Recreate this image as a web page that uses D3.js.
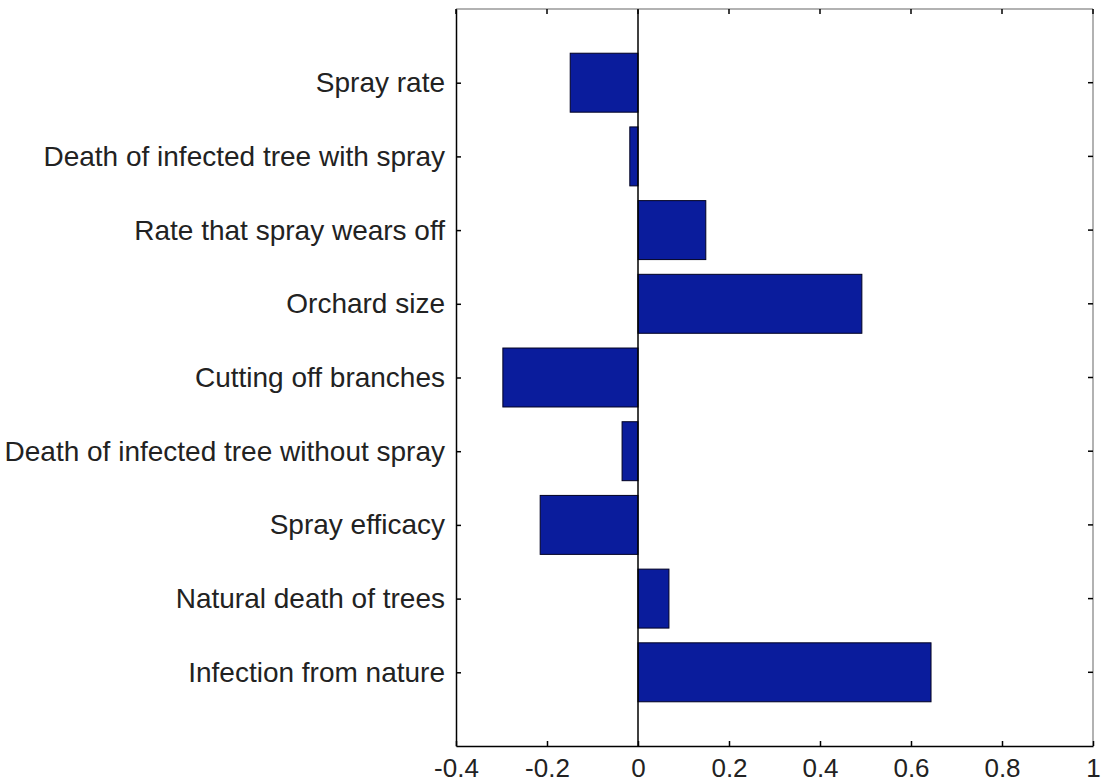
<!DOCTYPE html>
<html><head><meta charset="utf-8">
<script src="https://cdn.jsdelivr.net/npm/d3@7"></script>
<style>body{margin:0;background:#fff;} svg{display:block;}</style>
</head><body>
<script>
const categories = ["Infection from nature","Natural death of trees","Spray efficacy","Death of infected tree without spray","Cutting off branches","Orchard size","Rate that spray wears off","Death of infected tree with spray","Spray rate"];
const values = [0.644, 0.068, -0.215, -0.035, -0.297, 0.492, 0.149, -0.018, -0.149];
const xTicks = [-0.4,-0.2,0,0.2,0.4,0.6,0.8,1];
const xTickLabels = ["-0.4","-0.2","0","0.2","0.4","0.6","0.8","1"];

const W=1105,H=782;
const m={left:456,right:12,top:9,bottom:36};
const svg=d3.select("body").append("svg").attr("width",W).attr("height",H);
const x=d3.scaleLinear().domain([-0.4,1]).range([m.left,W-m.right]);
const y=d3.scaleLinear().domain([0,categories.length+1]).range([H-m.bottom,m.top]);
const bw = (y(0)-y(0.8));
const fontFam="'Liberation Sans', Arial, sans-serif";

// bars
svg.append("g").selectAll("rect").data(values).join("rect")
  .attr("x",d=>x(Math.min(0,d)))
  .attr("width",d=>Math.abs(x(d)-x(0)))
  .attr("y",(d,i)=>y(i+1)-bw/2)
  .attr("height",bw)
  .attr("fill","#0a1c9c").attr("stroke","#000022").attr("stroke-width",1);

// zero baseline
svg.append("line").attr("x1",x(0)).attr("x2",x(0)).attr("y1",y(0)).attr("y2",y(categories.length+1))
  .attr("stroke","#000").attr("stroke-width",1.5);

// box
svg.append("line").attr("x1",x(-0.4)).attr("x2",x(1)).attr("y1",m.top).attr("y2",m.top).attr("stroke","#999").attr("stroke-width",1.5);
svg.append("line").attr("x1",x(1)).attr("x2",x(1)).attr("y1",m.top).attr("y2",H-m.bottom).attr("stroke","#999").attr("stroke-width",1.5);

// bottom axis
const xa=svg.append("g").attr("transform",`translate(0,${H-m.bottom})`)
  .call(d3.axisBottom(x).tickValues(xTicks).tickFormat((d,i)=>xTickLabels[i]).tickSizeInner(-5).tickSizeOuter(0).tickPadding(12));
xa.select(".domain").attr("stroke","#000").attr("stroke-width",1.5);
xa.selectAll(".tick line").attr("stroke","#000").attr("stroke-width",1.5);
xa.selectAll("text").attr("font-family",fontFam).attr("font-size",26).attr("fill","#222").attr("y",31).attr("dy",0);
// top ticks
svg.append("g").selectAll("line").data(xTicks).join("line")
  .attr("x1",d=>x(d)).attr("x2",d=>x(d)).attr("y1",m.top).attr("y2",m.top+5).attr("stroke","#000").attr("stroke-width",1.5);

// left axis
const ya=svg.append("g").attr("transform",`translate(${m.left},0)`)
  .call(d3.axisLeft(y).tickValues(d3.range(1,categories.length+1)).tickFormat(d=>categories[d-1]).tickSizeInner(-5).tickSizeOuter(0).tickPadding(11));
ya.select(".domain").attr("stroke","#000").attr("stroke-width",1.5);
ya.selectAll(".tick line").attr("stroke","#000").attr("stroke-width",1.5);
ya.selectAll("text").attr("font-family",fontFam).attr("font-size",28).attr("fill","#222");
// right ticks
svg.append("g").selectAll("line").data(d3.range(1,categories.length+1)).join("line")
  .attr("x1",x(1)-5).attr("x2",x(1)).attr("y1",d=>y(d)).attr("y2",d=>y(d)).attr("stroke","#000").attr("stroke-width",1.5);
</script>
</body></html>
